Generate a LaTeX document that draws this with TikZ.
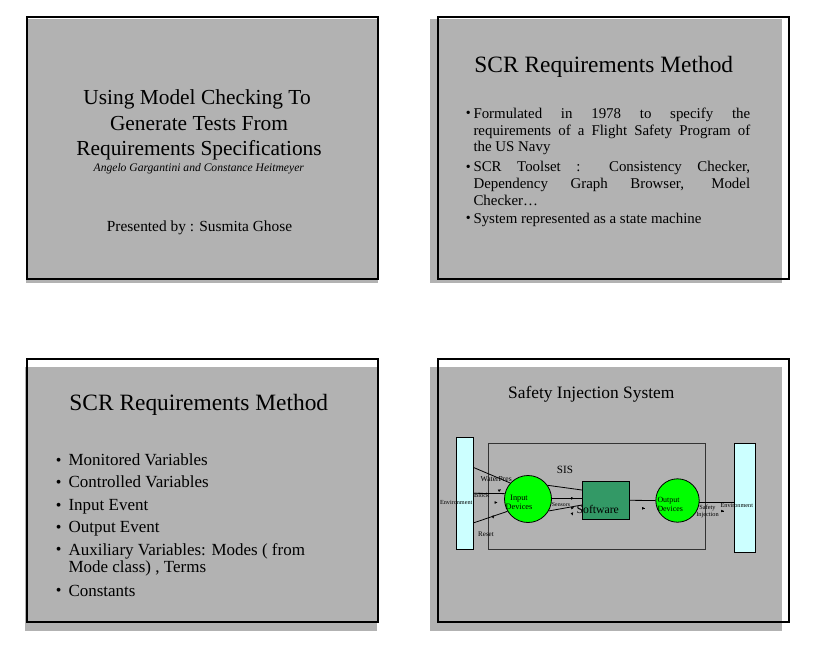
\documentclass[tikz,border=0pt]{standalone}
\usepackage{fontspec}
\setmainfont{Liberation Serif}
\usetikzlibrary{positioning,arrows.meta}

\definecolor{slidegray}{RGB}{178,178,178}
\definecolor{envcyan}{RGB}{204,255,255}
\definecolor{swgreen}{RGB}{51,153,102}
\definecolor{devgreen}{RGB}{0,255,0}

\newcommand{\fsz}[2]{\fontsize{#1}{#2}\selectfont}

\begin{document}
\begin{tikzpicture}[x=1pt,y=-1pt,
  slideframe/.style={draw=black,line width=2pt},
  txtline/.style={inner sep=0pt,anchor=base},
  item/.style={inner sep=0pt,anchor=base west,align=left},
  dot/.style={inner sep=0pt,anchor=base west},
  env/.style={draw=black,fill=envcyan,line width=0.8pt,inner sep=0pt},
  device/.style={circle,draw=black,fill=devgreen,line width=0.8pt,inner sep=0pt},
  wire/.style={draw=black,line width=0.8pt},
  tipmark/.style={line width=0.3pt,-{Latex[length=2.8pt,width=2.6pt]}},
  tiny/.style={inner sep=0pt,font=\fsz{#1}{#1}}]
\useasboundingbox (0,0) rectangle (815,651);

% slide backgrounds and frames
\foreach \gx/\gy/\fx/\fy in {26/19/27.3/16.7, 430/19/438.3/16.7, 25/367/27.3/359.3, 430/367/438.3/359.3}{
  \fill[slidegray] (\gx,\gy) rectangle ++(352,264);
  \draw[slideframe] (\fx,\fy) rectangle ++(351,262.3);
}

% slide 1
\foreach \i/\x/\y/\txt in {1/197/104.3/Using Model Checking To, 2/199/130/Generate Tests From, 3/199/155.7/Requirements Specifications}
\node[txtline,font=\fsz{21.4}{26}] (title\i) at (\x,\y) {\txt};
\node[txtline,font=\fsz{11.6}{13}\itshape] (authors) at (198.8,171.7) {Angelo Gargantini and Constance Heitmeyer};
\node[txtline,font=\fsz{15.4}{18}] (presenter) at (199.5,231.7) {Presented by : Susmita Ghose};

% slide 2
\node[txtline,font=\fsz{23.4}{26}] (scrtitleA) at (603.8,72.7) {SCR Requirements Method};
\foreach \i/\y/\txt in {1/118.3/{Formulated in 1978 to specify the\linebreak requirements of a Flight Safety Program of\linebreak the US Navy},
  2/171.7/{SCR Toolset : Consistency Checker,\linebreak Dependency Graph Browser, Model\linebreak Checker\ldots},
  3/223.3/{System represented as a state machine}}{
  \node[dot,font=\fsz{14}{14}] (dotA\i) at (465.6,\y-0.5) {\textbullet};
  \node[item,text width=276.7pt,align=justify,font=\fsz{14.9}{16.7}] (itemA\i) at (473.3,\y) {\txt};
}

% slide 3
\node[txtline,font=\fsz{23.4}{26}] (scrtitleB) at (198.8,410) {SCR Requirements Method};
\foreach \i/\by/\ty/\txt in {1/465.7/465.7/Monitored Variables, 2/487.7/487.7/Controlled Variables,
  3/510.7/510.7/Input Event, 4/532.7/532.7/Output Event,
  5/555/572.7/{Auxiliary Variables: Modes ( from\\Mode class) , Terms}, 6/596/596/Constants}{
  \node[dot,font=\fsz{16}{16}] (dotB\i) at (55.8,\by-0.5) {\textbullet};
  \node[item,font=\fsz{17}{17.7}] (itemB\i) at (68.3,\ty) {\txt};
}

% slide 4
\node[txtline,font=\fsz{17.4}{20}] (sistitle) at (591.3,398.3) {Safety Injection System};

\node[draw=black!80,line width=0.8pt,minimum width=217pt,minimum height=106pt,inner sep=0pt] (sis) at (596.8,496.3) {};
\node[env,minimum width=17.7pt,minimum height=112pt] (envL) at (464.85,493.3) {};
\node[env,minimum width=21.4pt,minimum height=109pt] (envR) at (745,497.8) {};
\node[tiny=11.1] (sislabel) at (565,469.5) {SIS};
\node[tiny=7.6,anchor=west] (waterpres) at (480.5,479.5) {WaterPres};
\node[tiny=6.3,anchor=west] (block) at (474,495.7) {Block};
\node[tiny=7] (reset) at (486,534) {Reset};
\node[tiny=5.8] (sensors) at (561,505) {Sensors};

\node[device,minimum size=47pt] (inputdev) at (528,499) {};
\node[device,minimum size=43.4pt] (outputdev) at (677.5,500.5) {};
\node[draw=black,fill=swgreen,line width=0.8pt,minimum width=47pt,minimum height=38pt,inner sep=0pt] (software) at (605.8,500.3) {};

% connections
\draw[wire] ([yshift=25.6pt]envL.east) -- (inputdev.138);
\draw[wire] (envL.east) -- (inputdev.167);
\draw[wire] ([yshift=-29.4pt]envL.east) -- (inputdev.211);
\draw[wire] (inputdev.35) -- ([yshift=10.3pt]software.west);
\draw[wire] (inputdev.2) -- (inputdev.2 -| software.west);
\draw[wire] (inputdev.330) -- ([yshift=-4.7pt]software.west);
\draw[wire] (software.east) -- (outputdev.180);
\draw[wire] (outputdev.-6) -- (outputdev.-6 -| envR.west);

% arrow marks
\foreach \ax/\ay/\dx/\dy in {501/489.5/1/-0.5, 497.5/502.5/1/0, 493.5/518.5/0.3/1, 574/498.3/1/0,
  574/507.6/1/-0.19, 572.7/515.5/0.3/1, 645/508.3/1/0, 724/511/1/0}
\draw[tipmark] (\ax-0.3*\dx,\ay-0.3*\dy) -- (\ax,\ay);

\node[tiny=11.7] (swlabel) at (597.8,509) {Software};
\node[tiny=8.3,align=center,font=\fsz{8.3}{9}] (inlabel) at (519,502.2) {Input\\Devices};
\node[tiny=7.9,align=left,anchor=west,font=\fsz{7.9}{9}] (outlabel) at (657.3,504.5) {Output\\Devices};
\node[tiny=6.3,align=center,font=\fsz{6.3}{7.3}] (safety) at (707.5,511.3) {Safety\\Injection};
\node[tiny=6.2] (envLlabel) at (456.2,502) {Environment};
\node[tiny=6.2] (envRlabel) at (736.8,505.7) {Environment};

\end{tikzpicture}
\end{document}
